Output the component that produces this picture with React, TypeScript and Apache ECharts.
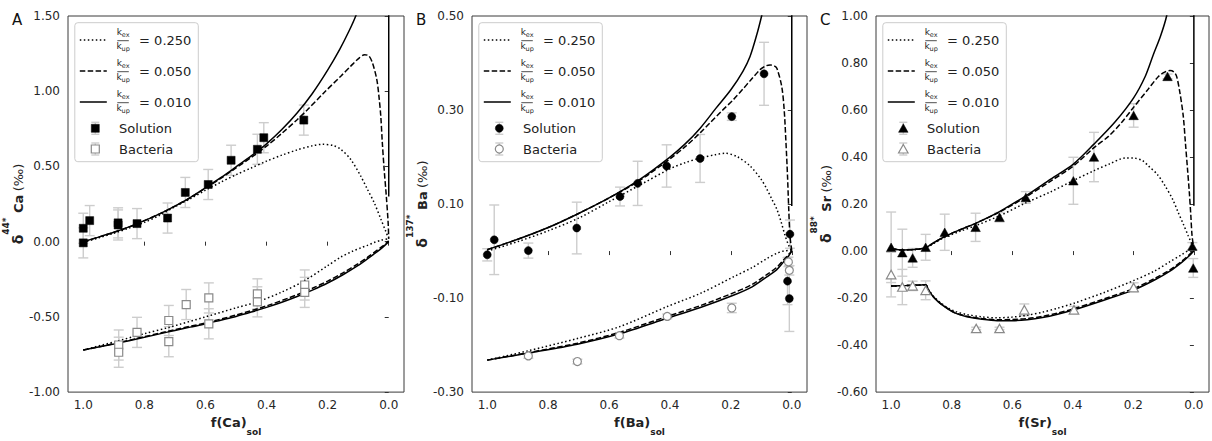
import React, { useEffect, useRef } from 'react';
import * as echarts from 'echarts';

type Pt = [number, number];

const FONT = "'DejaVu Sans', sans-serif";

// ---------- shared ticks ----------
const xTicks = [0, 0.2, 0.4, 0.6, 0.8, 1.0];
const caYTicks = [-1, -0.5, 0, 0.5, 1, 1.5];
const baYTicks = [-0.3, -0.1, 0.1, 0.3, 0.5];
const srYTicks = [-0.6, -0.4, -0.2, 0, 0.2, 0.4, 0.6, 0.8, 1.0];
const kRatios = ['0.250', '0.050', '0.010'];

// ---------- Panel A (Ca) ----------
const caSolF = [1.0, 1.0, 0.979, 0.886, 0.886, 0.824, 0.724, 0.666, 0.591, 0.516, 0.43, 0.409, 0.278];
const caSolD = [-0.008, 0.089, 0.14, 0.125, 0.111, 0.12, 0.157, 0.327, 0.38, 0.541, 0.614, 0.691, 0.808];
const caSolErr = [0.1, 0.1, 0.1, 0.1, 0.1, 0.1, 0.1, 0.1, 0.1, 0.1, 0.1, 0.1, 0.1];
const caBacF = [0.884, 0.884, 0.824, 0.72, 0.72, 0.663, 0.589, 0.589, 0.43, 0.43, 0.275, 0.275];
const caBacD = [-0.687, -0.735, -0.603, -0.524, -0.665, -0.418, -0.374, -0.546, -0.347, -0.4, -0.288, -0.337];
const caBacErr = [0.1, 0.1, 0.1, 0.1, 0.1, 0.1, 0.1, 0.1, 0.1, 0.1, 0.1, 0.1];

const caSolid010Up: Pt[] = [[1.0,0.0],[0.95,0.03],[0.9,0.062],[0.85,0.098],[0.8,0.14],[0.75,0.185],[0.7,0.236],[0.65,0.293],[0.6,0.358],[0.55,0.425],[0.5,0.497],[0.45,0.57],[0.4,0.65],[0.35,0.745],[0.3,0.855],[0.25,0.985],[0.2,1.14],[0.16,1.28],[0.13,1.4],[0.108,1.5],[0.08,1.66],[0.05,2.0],[0.0,2.6],[0.0,1.4],[0.0,0.3]];
const caDashed050Up: Pt[] = [[1.0,0.0],[0.95,0.03],[0.9,0.062],[0.85,0.098],[0.8,0.14],[0.75,0.185],[0.7,0.236],[0.65,0.292],[0.6,0.356],[0.55,0.42],[0.5,0.49],[0.45,0.56],[0.4,0.635],[0.35,0.72],[0.3,0.81],[0.267,0.875],[0.212,0.99],[0.157,1.1],[0.125,1.165],[0.1,1.215],[0.079,1.242],[0.065,1.235],[0.053,1.187],[0.039,1.077],[0.032,0.966],[0.026,0.834],[0.021,0.658],[0.015,0.481],[0.008,0.305],[0.002,0.129],[0.0,0.02]];
const caDotted250Up: Pt[] = [[1.0,-0.005],[0.95,0.025],[0.9,0.056],[0.85,0.09],[0.8,0.128],[0.75,0.175],[0.7,0.232],[0.65,0.285],[0.6,0.342],[0.55,0.395],[0.5,0.445],[0.45,0.49],[0.4,0.535],[0.35,0.575],[0.3,0.61],[0.25,0.637],[0.217,0.647],[0.18,0.638],[0.157,0.614],[0.125,0.548],[0.092,0.437],[0.07,0.349],[0.048,0.261],[0.026,0.151],[0.01,0.07],[0.0,0.02]];
const caSolid010Low: Pt[] = [[1.0,-0.72],[0.95,-0.7],[0.9,-0.68],[0.85,-0.658],[0.8,-0.636],[0.75,-0.613],[0.7,-0.59],[0.65,-0.568],[0.6,-0.547],[0.55,-0.522],[0.5,-0.497],[0.45,-0.468],[0.4,-0.437],[0.35,-0.403],[0.3,-0.365],[0.25,-0.322],[0.2,-0.275],[0.15,-0.22],[0.1,-0.158],[0.07,-0.115],[0.04,-0.07],[0.02,-0.038],[0.0,0.0]];
const caDashed050Low: Pt[] = [[1.0,-0.72],[0.9,-0.678],[0.8,-0.632],[0.7,-0.585],[0.6,-0.54],[0.5,-0.488],[0.4,-0.427],[0.3,-0.353],[0.25,-0.31],[0.2,-0.262],[0.15,-0.208],[0.1,-0.146],[0.07,-0.104],[0.04,-0.06],[0.02,-0.03],[0.0,0.005]];
const caDotted250Low: Pt[] = [[1.0,-0.72],[0.9,-0.667],[0.8,-0.612],[0.72,-0.57],[0.6,-0.5],[0.5,-0.44],[0.43,-0.4],[0.35,-0.335],[0.278,-0.262],[0.2,-0.16],[0.157,-0.103],[0.12,-0.065],[0.09,-0.04],[0.07,-0.025],[0.048,-0.006],[0.025,0.01],[0.0,0.02]];

// ---------- Panel B (Ba) ----------
const baSolF = [1.0, 0.977, 0.865, 0.706, 0.564, 0.506, 0.411, 0.301, 0.197, 0.091, 0.006, 0.014, 0.008];
const baSolD = [-0.008, 0.024, 0.001, 0.049, 0.116, 0.144, 0.181, 0.197, 0.286, 0.377, 0.036, -0.064, -0.101];
const baSolErr = [0.013, 0.074, 0.016, 0.055, 0.02, 0.047, 0.045, 0.051, 0.008, 0.067, 0.03, 0.05, 0.07];
const baBacF = [0.865, 0.704, 0.566, 0.409, 0.197, 0.011, 0.008];
const baBacD = [-0.223, -0.235, -0.18, -0.139, -0.121, -0.023, -0.041];
const baBacErr = [0.005, 0.005, 0.005, 0.005, 0.01, 0.01, 0.01];

const baSolid010Up: Pt[] = [[1.0,0.003],[0.9,0.025],[0.8,0.05],[0.7,0.08],[0.6,0.113],[0.5,0.152],[0.4,0.2],[0.35,0.228],[0.3,0.262],[0.25,0.303],[0.2,0.343],[0.16,0.383],[0.137,0.414],[0.115,0.46],[0.099,0.5],[0.07,0.58],[0.03,0.8],[0.0,0.9],[0.0,0.4],[0.0,0.096]];
const baDashed050Up: Pt[] = [[1.0,0.003],[0.9,0.025],[0.8,0.05],[0.7,0.08],[0.6,0.113],[0.5,0.15],[0.4,0.196],[0.35,0.222],[0.3,0.252],[0.268,0.273],[0.23,0.298],[0.192,0.322],[0.16,0.345],[0.137,0.362],[0.104,0.386],[0.085,0.394],[0.071,0.396],[0.058,0.394],[0.049,0.389],[0.033,0.35],[0.025,0.301],[0.019,0.23],[0.014,0.16],[0.01,0.09],[0.006,0.033],[0.0,0.0]];
const baDotted250Up: Pt[] = [[1.0,0.0],[0.9,0.02],[0.8,0.043],[0.7,0.07],[0.6,0.105],[0.5,0.14],[0.4,0.175],[0.35,0.188],[0.3,0.198],[0.25,0.205],[0.219,0.208],[0.18,0.201],[0.137,0.181],[0.1,0.152],[0.082,0.132],[0.065,0.11],[0.049,0.089],[0.035,0.062],[0.022,0.033],[0.01,0.012],[0.0,0.0]];
const baSolid010Low: Pt[] = [[1.0,-0.232],[0.865,-0.217],[0.704,-0.198],[0.566,-0.176],[0.409,-0.143],[0.3,-0.12],[0.192,-0.094],[0.13,-0.076],[0.082,-0.055],[0.05,-0.04],[0.027,-0.023],[0.01,-0.01],[0.0,0.0]];
const baDashed050Low: Pt[] = [[1.0,-0.232],[0.865,-0.216],[0.704,-0.196],[0.566,-0.173],[0.409,-0.139],[0.3,-0.116],[0.192,-0.089],[0.13,-0.071],[0.082,-0.05],[0.05,-0.035],[0.027,-0.019],[0.01,-0.007],[0.0,0.0]];
const baDotted250Low: Pt[] = [[1.0,-0.232],[0.865,-0.212],[0.704,-0.186],[0.566,-0.161],[0.409,-0.118],[0.3,-0.09],[0.192,-0.055],[0.13,-0.035],[0.082,-0.016],[0.05,-0.005],[0.027,0.0],[0.01,0.001],[0.0,0.0]];

// ---------- Panel C (Sr) ----------
const srSolF = [1.0, 0.963, 0.929, 0.886, 0.823, 0.721, 0.642, 0.555, 0.398, 0.33, 0.199, 0.087, 0.005, 0.002];
const srSolD = [0.016, -0.007, -0.029, 0.016, 0.08, 0.101, 0.144, 0.228, 0.299, 0.4, 0.577, 0.743, 0.021, -0.072];
const srSolErr = [0.15, 0.1, 0.04, 0.055, 0.077, 0.06, 0.02, 0.025, 0.1, 0.105, 0.05, 0.01, 0.015, 0.04];
const srBacF = [1.0, 0.963, 0.929, 0.886, 0.719, 0.642, 0.56, 0.396, 0.199];
const srBacD = [-0.1, -0.153, -0.148, -0.167, -0.329, -0.329, -0.25, -0.25, -0.155];
const srBacErr = [0.095, 0.075, 0.02, 0.04, 0.005, 0.005, 0.025, 0.015, 0.02];

const srSolid010Up: Pt[] = [[1.0,0.01],[0.96,0.005],[0.92,0.007],[0.886,0.014],[0.86,0.035],[0.823,0.062],[0.77,0.092],[0.721,0.118],[0.642,0.168],[0.555,0.235],[0.473,0.306],[0.398,0.37],[0.33,0.455],[0.26,0.55],[0.199,0.652],[0.16,0.745],[0.134,0.835],[0.11,0.915],[0.09,1.0],[0.06,1.2],[0.0,1.5],[0.0,0.6],[0.0,0.193]];
const srDashed050Up: Pt[] = [[1.0,0.01],[0.96,0.005],[0.92,0.007],[0.886,0.014],[0.86,0.035],[0.823,0.062],[0.77,0.092],[0.721,0.118],[0.642,0.166],[0.555,0.23],[0.473,0.298],[0.398,0.362],[0.33,0.44],[0.281,0.489],[0.24,0.545],[0.205,0.602],[0.15,0.69],[0.117,0.743],[0.095,0.762],[0.079,0.768],[0.066,0.762],[0.057,0.743],[0.046,0.673],[0.035,0.574],[0.028,0.462],[0.021,0.349],[0.015,0.25],[0.01,0.151],[0.006,0.066],[0.0,0.01]];
const srDotted250Up: Pt[] = [[1.0,0.01],[0.96,0.005],[0.92,0.007],[0.886,0.013],[0.86,0.032],[0.823,0.058],[0.77,0.085],[0.721,0.108],[0.642,0.15],[0.555,0.205],[0.473,0.252],[0.398,0.3],[0.33,0.342],[0.28,0.37],[0.226,0.396],[0.2,0.396],[0.17,0.385],[0.15,0.362],[0.12,0.325],[0.095,0.277],[0.07,0.22],[0.052,0.165],[0.035,0.115],[0.019,0.066],[0.0,0.01]];
const srSolid010Low: Pt[] = [[1.0,-0.149],[0.95,-0.147],[0.9,-0.144],[0.886,-0.143],[0.875,-0.17],[0.86,-0.195],[0.845,-0.215],[0.82,-0.24],[0.79,-0.263],[0.75,-0.279],[0.7,-0.29],[0.65,-0.296],[0.6,-0.296],[0.55,-0.292],[0.5,-0.283],[0.45,-0.269],[0.396,-0.25],[0.3,-0.21],[0.2,-0.166],[0.13,-0.123],[0.079,-0.085],[0.04,-0.048],[0.015,-0.02],[0.0,0.0]];
const srDashed050Low: Pt[] = [[1.0,-0.149],[0.95,-0.147],[0.9,-0.144],[0.886,-0.143],[0.875,-0.17],[0.86,-0.195],[0.845,-0.214],[0.82,-0.239],[0.79,-0.262],[0.75,-0.277],[0.7,-0.287],[0.65,-0.292],[0.6,-0.291],[0.55,-0.287],[0.5,-0.278],[0.45,-0.264],[0.396,-0.245],[0.3,-0.205],[0.2,-0.16],[0.13,-0.117],[0.079,-0.08],[0.04,-0.043],[0.015,-0.015],[0.0,0.005]];
const srDotted250Low: Pt[] = [[1.0,-0.149],[0.95,-0.147],[0.9,-0.144],[0.886,-0.143],[0.875,-0.168],[0.86,-0.192],[0.845,-0.211],[0.82,-0.235],[0.79,-0.256],[0.75,-0.27],[0.7,-0.28],[0.65,-0.284],[0.6,-0.281],[0.55,-0.273],[0.5,-0.26],[0.45,-0.243],[0.396,-0.222],[0.3,-0.178],[0.2,-0.126],[0.13,-0.085],[0.079,-0.045],[0.04,-0.015],[0.015,0.005],[0.0,0.017]];

// ---------- styling constants ----------
const ERR = '#cdcdcd';
const BAC_EDGE = '#8a8a8a';
const TXT = '#222222';
const DOTTED = [1.5, 2.5];
const DASHED = [5.5, 2.4];

const panels = [
  {
    letter: 'A', el: 'Ca', iso: '44*', left: 68, width: 336, yMin: -1, yMax: 1.5, yTicks: caYTicks, yGap: 33,
    symbol: 'rect', symSize: 8 as any,
    solF: caSolF, solD: caSolD, solE: caSolErr, bacF: caBacF, bacD: caBacD, bacE: caBacErr,
    curves: [caDotted250Up, caDashed050Up, caSolid010Up, caDotted250Low, caDashed050Low, caSolid010Low],
  },
  {
    letter: 'B', el: 'Ba', iso: '137*', left: 472, width: 335, yMin: -0.3, yMax: 0.5, yTicks: baYTicks, yGap: 29,
    symbol: 'circle', symSize: 8 as any,
    solF: baSolF, solD: baSolD, solE: baSolErr, bacF: baBacF, bacD: baBacD, bacE: baBacErr,
    curves: [baDotted250Up, baDashed050Up, baSolid010Up, baDotted250Low, baDashed050Low, baSolid010Low],
  },
  {
    letter: 'C', el: 'Sr', iso: '88*', left: 876, width: 333, yMin: -0.6, yMax: 1.0, yTicks: srYTicks, yGap: 31,
    symbol: 'triangle', symSize: [9.5, 8.5] as any,
    solF: srSolF, solD: srSolD, solE: srSolErr, bacF: srBacF, bacD: srBacD, bacE: srBacErr,
    curves: [srDotted250Up, srDashed050Up, srSolid010Up, srDotted250Low, srDashed050Low, srSolid010Low],
  },
];

const TOP = 16;
const HEIGHT = 378;

function errSeries(idx: number, f: number[], v: number[], e: number[]) {
  return {
    type: 'custom',
    xAxisIndex: idx,
    yAxisIndex: idx,
    silent: true,
    clip: true,
    z: 1,
    encode: { x: 0, y: [1, 2] },
    data: f.map((x, i) => [x, v[i] - e[i], v[i] + e[i]]),
    renderItem: (_params: any, api: any) => {
      const x = api.value(0);
      const lo = api.coord([x, api.value(1)]);
      const hi = api.coord([x, api.value(2)]);
      const w = 5;
      const st = { stroke: ERR, lineWidth: 1.4 };
      return {
        type: 'group',
        children: [
          { type: 'line', shape: { x1: lo[0], y1: lo[1], x2: hi[0], y2: hi[1] }, style: st },
          { type: 'line', shape: { x1: lo[0] - w, y1: lo[1], x2: lo[0] + w, y2: lo[1] }, style: st },
          { type: 'line', shape: { x1: hi[0] - w, y1: hi[1], x2: hi[0] + w, y2: hi[1] }, style: st },
        ],
      };
    },
  };
}

function curveSeries(idx: number, data: Pt[], kind: number) {
  const type = kind === 0 ? DOTTED : kind === 1 ? DASHED : 'solid';
  return {
    type: 'line',
    xAxisIndex: idx,
    yAxisIndex: idx,
    data,
    symbol: 'none',
    showSymbol: false,
    smooth: 0.3,
    clip: true,
    silent: true,
    z: 2,
    lineStyle: { color: '#000', width: 1.5, type },
  };
}

function scatterSeries(idx: number, f: number[], v: number[], symbol: string, size: any, bacteria: boolean) {
  return {
    type: 'scatter',
    xAxisIndex: idx,
    yAxisIndex: idx,
    data: f.map((x, i) => [x, v[i]]),
    symbol,
    symbolSize: size,
    silent: true,
    z: 3,
    itemStyle: bacteria
      ? { color: '#ffffff', borderColor: BAC_EDGE, borderWidth: 1.2, opacity: 1 }
      : { color: '#000000', borderColor: '#000000', borderWidth: 0.5, opacity: 1 },
  };
}

function markerGraphic(symbol: string, cx: number, cy: number, bacteria: boolean) {
  const style = bacteria
    ? { fill: '#ffffff', stroke: BAC_EDGE, lineWidth: 1.2 }
    : { fill: '#000000', stroke: '#000000', lineWidth: 0.5 };
  const els: any[] = [];
  const est = { stroke: ERR, lineWidth: 1.4 };
  els.push({ type: 'line', shape: { x1: cx, y1: cy - 6, x2: cx, y2: cy + 6 }, style: est, z: 101 });
  els.push({ type: 'line', shape: { x1: cx - 4, y1: cy - 6, x2: cx + 4, y2: cy - 6 }, style: est, z: 101 });
  els.push({ type: 'line', shape: { x1: cx - 4, y1: cy + 6, x2: cx + 4, y2: cy + 6 }, style: est, z: 101 });
  if (symbol === 'rect') {
    els.push({ type: 'rect', shape: { x: cx - 4, y: cy - 4, width: 8, height: 8 }, style, z: 102 });
  } else if (symbol === 'circle') {
    els.push({ type: 'circle', shape: { cx, cy, r: 4 }, style, z: 102 });
  } else {
    els.push({ type: 'polygon', shape: { points: [[cx, cy - 4.5], [cx + 4.75, cy + 4], [cx - 4.75, cy + 4]] }, style, z: 102 });
  }
  return els;
}

function legendGraphic(bx: number, by: number, symbol: string) {
  const els: any[] = [];
  els.push({
    type: 'rect',
    shape: { x: bx, y: by, width: 123.5, height: 139, r: 3 },
    style: { fill: 'rgba(255,255,255,0.85)', stroke: '#cccccc', lineWidth: 1 },
    z: 100,
  });
  const dashes: any[] = [DOTTED, DASHED, null];
  const rich = {
    k: { fontSize: 9, fontFamily: FONT, fill: TXT, color: TXT, lineHeight: 11, verticalAlign: 'top' },
    s: { fontSize: 6.5, fontFamily: FONT, fill: TXT, color: TXT, lineHeight: 7, verticalAlign: 'bottom' },
  };
  for (let i = 0; i < 3; i++) {
    const y = by + 17.3 + 31 * i;
    els.push({
      type: 'line',
      shape: { x1: bx + 5, y1: y, x2: bx + 32, y2: y },
      style: { stroke: '#000', lineWidth: 1.5, lineDash: dashes[i] },
      z: 101,
    });
    els.push({
      type: 'text', x: bx + 48.3, y: y - 7.5, z: 101,
      style: { text: '{k|k}{s|ex}', rich, fill: TXT, align: 'center', verticalAlign: 'middle' },
    });
    els.push({
      type: 'line', z: 101,
      shape: { x1: bx + 42.5, y1: y + 0.7, x2: bx + 54, y2: y + 0.7 },
      style: { stroke: TXT, lineWidth: 0.8 },
    });
    els.push({
      type: 'text', x: bx + 48.3, y: y + 7, z: 101,
      style: { text: '{k|k}{s|up}', rich, fill: TXT, align: 'center', verticalAlign: 'middle' },
    });
    els.push({
      type: 'text', x: bx + 64.3, y, z: 101,
      style: { text: '= ' + kRatios[i], fontSize: 13, fontFamily: FONT, fill: TXT, align: 'left', verticalAlign: 'middle' },
    });
  }
  const names = ['Solution', 'Bacteria'];
  for (let j = 0; j < 2; j++) {
    const y = by + 105.6 + 20.7 * j;
    els.push(...markerGraphic(symbol, bx + 20.5, y, j === 1));
    els.push({
      type: 'text', x: bx + 44.3, y, z: 101,
      style: { text: names[j], fontSize: 13, fontFamily: FONT, fill: TXT, align: 'left', verticalAlign: 'middle' },
    });
  }
  return els;
}

function buildOption() {
  const grid: any[] = [];
  const xAxis: any[] = [];
  const yAxis: any[] = [];
  const series: any[] = [];
  const graphic: any[] = [];
  const lineColor = '#333333';
  const labelStyle = { fontSize: 12, fontFamily: FONT, color: '#262626' };

  panels.forEach((p, idx) => {
    grid.push({
      left: p.left, top: TOP, width: p.width, height: HEIGHT,
      show: true, borderColor: '#3a3a3a', borderWidth: 1, backgroundColor: 'transparent',
    });
    xAxis.push({
      gridIndex: idx, type: 'value', min: -0.05, max: 1.05, inverse: true,
      name: `{b|f(${p.el})}{s|sol}`,
      nameLocation: 'middle', nameGap: 22,
      nameTextStyle: {
        rich: {
          b: { fontSize: 13, fontWeight: 'bold', fontFamily: FONT, color: TXT, lineHeight: 20, verticalAlign: 'top' },
          s: { fontSize: 9, fontWeight: 'bold', fontFamily: FONT, color: TXT, lineHeight: 10, verticalAlign: 'bottom' },
        },
      },
      axisLine: { show: false },
      axisTick: { show: true, length: 4, customValues: xTicks, lineStyle: { color: lineColor } },
      axisLabel: { ...labelStyle, margin: 7, customValues: xTicks, formatter: (v: number) => v.toFixed(1) },
      splitLine: { show: false },
    });
    yAxis.push({
      gridIndex: idx, type: 'value', min: p.yMin, max: p.yMax,
      name: `{d|δ}{sup|${p.iso}}{b| ${p.el}} {n|(‰)}`,
      nameLocation: 'middle', nameGap: p.yGap,
      nameTextStyle: {
        rich: {
          d: { fontSize: 14, fontWeight: 'bold', fontFamily: FONT, color: TXT, lineHeight: 24, verticalAlign: 'bottom' },
          sup: { fontSize: 9, fontWeight: 'bold', fontFamily: FONT, color: TXT, lineHeight: 10, verticalAlign: 'top' },
          b: { fontSize: 13, fontWeight: 'bold', fontFamily: FONT, color: TXT, lineHeight: 24, verticalAlign: 'bottom' },
          n: { fontSize: 13, fontFamily: FONT, color: TXT, lineHeight: 24, verticalAlign: 'bottom' },
        },
      },
      axisLine: { show: false },
      axisTick: { show: true, length: 4, customValues: p.yTicks, lineStyle: { color: lineColor } },
      axisLabel: { ...labelStyle, margin: 8, customValues: p.yTicks, formatter: (v: number) => v.toFixed(2) },
      splitLine: { show: false },
    });

    series.push(errSeries(idx, p.solF, p.solD, p.solE));
    series.push(errSeries(idx, p.bacF, p.bacD, p.bacE));
    p.curves.forEach((c, k) => series.push(curveSeries(idx, c, k % 3)));
    series.push(scatterSeries(idx, p.solF, p.solD, p.symbol, p.symSize, false));
    series.push(scatterSeries(idx, p.bacF, p.bacD, p.symbol, p.symSize, true));

    graphic.push(...legendGraphic(p.left + 6.8, 22.7, p.symbol));
    graphic.push({
      type: 'text', x: p.left - 56, y: 19.5, z: 101,
      style: { text: p.letter, fontSize: 15, fontFamily: FONT, fill: '#111', align: 'left', verticalAlign: 'middle' },
    });
  });

  return {
    animation: false,
    backgroundColor: '#ffffff',
    grid,
    xAxis,
    yAxis,
    series,
    graphic: { elements: graphic },
  };
}

export default function App() {
  const ref = useRef<HTMLDivElement>(null);
  useEffect(() => {
    if (!ref.current) return;
    const chart = echarts.init(ref.current, null, { renderer: 'svg' });
    chart.setOption(buildOption() as any);
    return () => chart.dispose();
  }, []);
  return (
    <div
      ref={ref}
      style={{ position: 'fixed', left: 0, top: 0, width: 1212, height: 441, background: '#fff' }}
    />
  );
}
